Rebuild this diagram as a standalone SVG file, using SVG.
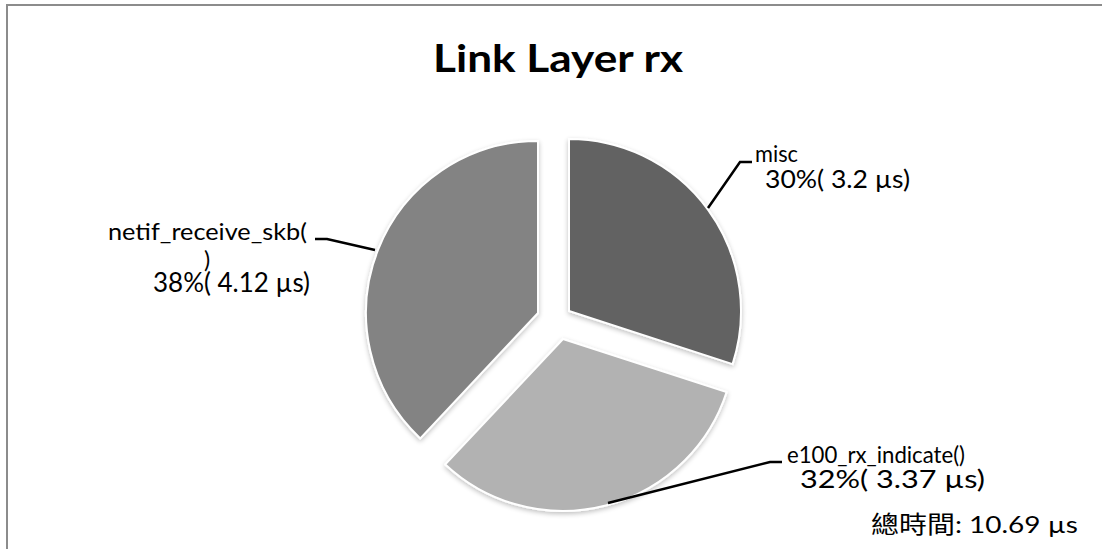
<svg xmlns="http://www.w3.org/2000/svg" width="1102" height="549" viewBox="0 0 1102 549">
  <defs>
    <style>
      .lbl { font-family: Lato, "Liberation Sans", sans-serif; fill: #000; }
      .slice { stroke: #ffffff; stroke-width: 2; filter: url(#sh); }
      .lead { fill: none; stroke: #000; stroke-width: 2.5; }
    </style>
    <filter id="sh" x="-10%" y="-10%" width="120%" height="120%">
      <feGaussianBlur in="SourceAlpha" stdDeviation="2.5"/>
      <feOffset dx="0" dy="2" result="b"/>
      <feComponentTransfer><feFuncA type="linear" slope="0.25"/></feComponentTransfer>
      <feMerge><feMergeNode/><feMergeNode in="SourceGraphic"/></feMerge>
    </filter>
  </defs>
  <rect width="1102" height="549" fill="#ffffff"/>
  <path d="M7,549 V5 H1102" fill="none" stroke="#8c8c8c" stroke-width="2"/>

  <text class="lbl" x="558" y="72" font-size="38" font-weight="bold" text-anchor="middle" textLength="250" lengthAdjust="spacingAndGlyphs">Link Layer rx</text>

  <g id="slice-misc">
    <path class="slice" fill="#626262" d="M569,311 L569,139 A172,172 0 0 1 732.6,364.1 Z"/>
  </g>
  <g id="slice-e100">
    <path class="slice" fill="#b2b2b2" d="M563,339 L726.6,392.1 A172,172 0 0 1 445.3,464.4 Z"/>
  </g>
  <g id="slice-netif">
    <path class="slice" fill="#838383" d="M538,313 L420.3,438.4 A172,172 0 0 1 538,141 Z"/>
  </g>

  <g id="connectors">
    <path class="lead" d="M708,208 L740,162 H752"/>
    <path class="lead" d="M315,239 H327 L375,250"/>
    <path class="lead" d="M608,503 L770,462 H782"/>
  </g>

  <g id="label-misc">
    <text class="lbl" x="755" y="162" font-size="23" textLength="43" lengthAdjust="spacingAndGlyphs">misc</text>
    <text class="lbl" x="765" y="188" font-size="25" textLength="145" lengthAdjust="spacingAndGlyphs">30%( 3.2 µs)</text>
  </g>
  <g id="label-netif">
    <text class="lbl" x="108" y="240" font-size="23" textLength="199" lengthAdjust="spacingAndGlyphs">netif_receive_skb(</text>
    <text class="lbl" x="204" y="268" font-size="23">)</text>
    <text class="lbl" x="153" y="292" font-size="26" textLength="157" lengthAdjust="spacingAndGlyphs">38%( 4.12 µs)</text>
  </g>
  <g id="label-e100">
    <text class="lbl" x="787" y="463" font-size="23" textLength="178" lengthAdjust="spacingAndGlyphs">e100_rx_indicate()</text>
    <text class="lbl" x="800" y="488" font-size="25" textLength="185" lengthAdjust="spacingAndGlyphs">32%( 3.37 µs)</text>
  </g>
  <g id="total">
    <text class="lbl" x="871" y="533" font-size="24" style="font-family: Lato, 'Noto Sans CJK TC', sans-serif" textLength="207" lengthAdjust="spacingAndGlyphs">總時間: 10.69 µs</text>
  </g>
</svg>
